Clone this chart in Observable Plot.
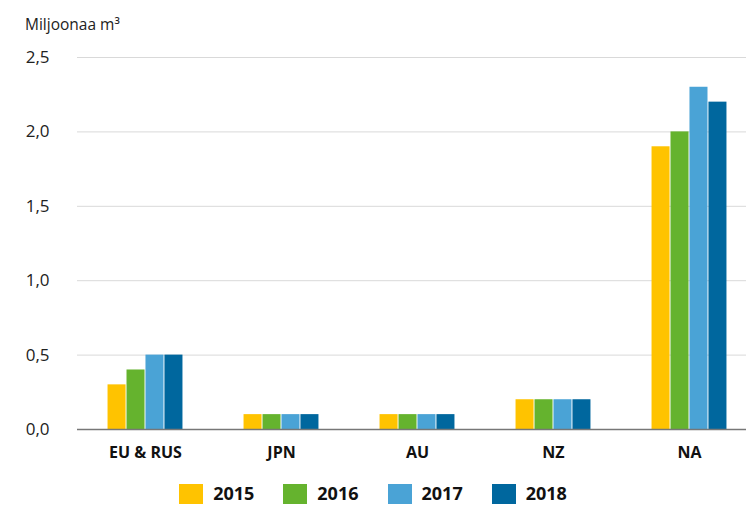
<!DOCTYPE html>
<html>
<head>
<meta charset="utf-8">
<script src="https://cdn.jsdelivr.net/npm/d3@7"></script>
<script src="https://cdn.jsdelivr.net/npm/@observablehq/plot@0.6"></script>
<style>
  html, body { margin: 0; padding: 0; background: #fff; }
  #wrap { position: relative; width: 746px; height: 506px; font-family: "Open Sans", sans-serif; }
  #ytitle { position: absolute; left: 25px; top: 15px; font-size: 15.5px; line-height: 18px; color: #222; }
  #legend { position: absolute; left: 0; top: 482px; width: 746px; height: 22px; display: flex; justify-content: center; align-items: center; gap: 29px; font-size: 18px; line-height: 22px; font-weight: bold; color: #111; }
  .item { display: flex; align-items: center; gap: 10px; }
  .sw { width: 24px; height: 20px; display: inline-block; position: relative; top: 1px; }
  .lt { display: inline-block; }
  #chart { position: absolute; left: 0; top: 0; }
</style>
</head>
<body>
<div id="wrap">
  <div id="chart"></div>
  <div id="ytitle">Miljoonaa m³</div>
  <div id="legend"></div>
</div>
<script>
const categories = ["EU & RUS", "JPN", "AU", "NZ", "NA"];
const years = ["2015", "2016", "2017", "2018"];
const values2015 = [0.3, 0.1, 0.1, 0.2, 1.9];
const values2016 = [0.4, 0.1, 0.1, 0.2, 2.0];
const values2017 = [0.5, 0.1, 0.1, 0.2, 2.3];
const values2018 = [0.5, 0.1, 0.1, 0.2, 2.2];
const colors = ["#FFC300", "#65B32E", "#4AA3D6", "#00679E"];
const yTicks = [0, 0.5, 1.0, 1.5, 2.0, 2.5];

const series = [values2015, values2016, values2017, values2018];
const data = [];
categories.forEach((c, i) => {
  years.forEach((y, j) => data.push({category: c, year: y, value: series[j][i]}));
});

const fmt = d => d.toFixed(1).replace(".", ",");

const chart = Plot.plot({
  width: 746,
  height: 475,
  marginTop: 57,
  marginBottom: 46,
  marginLeft: 76,
  marginRight: -12,
  style: {fontFamily: "Open Sans, sans-serif", background: "transparent", color: "#111"},
  fx: {domain: categories, padding: 0},
  x: {domain: years, paddingInner: 0.05, paddingOuter: 1.61, round: false, axis: null},
  y: {domain: [0, 2.5]},
  color: {domain: years, range: colors},
  marks: [
    Plot.gridY(yTicks, {stroke: "#d9d9d9", strokeOpacity: 1}),
    Plot.axisY(yTicks, {tickSize: 0, tickPadding: 28, tickFormat: fmt, fontSize: 17, label: null, fill: "#222"}),
    Plot.axisFx({anchor: "bottom", tickSize: 0, tickPadding: 17, fontSize: 16, fontWeight: "bold", label: null, fill: "#111"}),
    Plot.barY(data, {fx: "category", x: "year", y: "value", fill: "year"}),
    Plot.ruleY([0], {stroke: "#777", strokeWidth: 1.5})
  ]
});
document.getElementById("chart").appendChild(chart);

const legend = document.getElementById("legend");
years.forEach((y, i) => {
  const it = document.createElement("div");
  it.className = "item";
  const sw = document.createElement("span");
  sw.className = "sw";
  sw.style.background = colors[i];
  const t = document.createElement("span");
  t.className = "lt";
  t.textContent = y;
  it.appendChild(sw);
  it.appendChild(t);
  legend.appendChild(it);
});
</script>
</body>
</html>
